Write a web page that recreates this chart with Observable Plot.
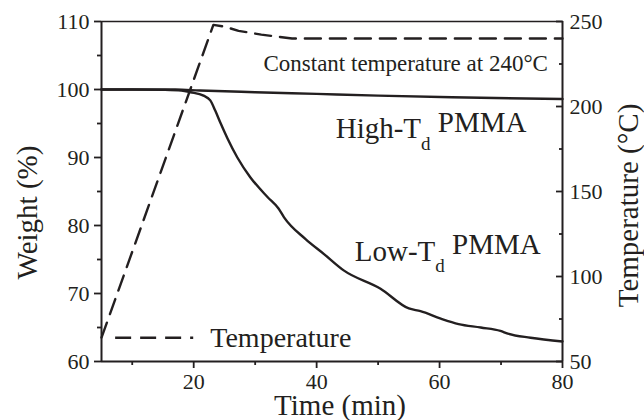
<!DOCTYPE html>
<html>
<head>
<meta charset="utf-8">
<script src="https://cdn.jsdelivr.net/npm/d3@7"></script>
<script src="https://cdn.jsdelivr.net/npm/@observablehq/plot@0.6"></script>
<style>
  body { margin: 0; background: #fff; }
  #chart svg { display: block; }
  #chart svg, #chart svg text, #chart svg tspan {
    font-family: "Liberation Serif", serif !important;
    font-variant: normal !important;
    font-variant-numeric: normal !important;
  }
</style>
</head>
<body>
<div id="chart"></div>
<script>
// Isothermal TGA run: weight loss of two PMMA grades and the oven temperature program.
const lowTime   = [5, 10, 15, 18, 19.5, 21.6, 22.7, 23.5, 24.4, 25.5, 27.1, 29.2, 32, 33.8, 34.7, 38.2, 41.2, 44.4, 50.4, 55, 56.9, 60.2, 63.1, 66.7, 69.9, 71.1, 74.8, 80];
const lowWeight = [100, 100, 99.95, 99.85, 99.6, 99.1, 98.4, 96.9, 95, 92.8, 90, 87.1, 84.2, 82.5, 81.2, 78, 75.8, 73.4, 70.7, 67.8, 67.4, 66.3, 65.5, 65, 64.5, 64.1, 63.5, 62.95];

const highTime   = [5, 17, 21, 30, 40, 50, 62, 80];
const highWeight = [100, 100, 99.85, 99.6, 99.35, 99.1, 98.85, 98.6];

const holdTemp = 240;
const tempTime = [5, 23.2, 25, 27.3, 31, 36, 40, 80];
const tempC    = [64, 248, 247, 244.5, 242.3, holdTemp, holdTemp, holdTemp];

const timeMajor   = [20, 40, 60, 80];
const timeMinor   = [10, 30, 50, 70];
const weightMajor = [60, 70, 80, 90, 100, 110];
const weightMinor = [65, 75, 85, 95, 105];
const tempMajor   = [50, 100, 150, 200, 250];
const tempMinor   = [75, 125, 175, 225];

// The temperature axis (50–250 °C) shares the vertical range of the weight axis (60–110 %).
const toW = t => 60 + (t - 50) / 4;
const toT = w => Math.round((w - 60) * 4 + 50);

const low  = lowTime.map((t, i) => ({t, w: lowWeight[i]}));
const high = highTime.map((t, i) => ({t, w: highWeight[i]}));
const temp = tempTime.map((t, i) => ({t, w: toW(tempC[i])}));

const ink = "#231f20";
const serif = "Liberation Serif";
const dash = "16,9";

const chart = Plot.plot({
  width: 644,
  height: 420,
  marginLeft: 101,
  marginRight: 82,
  marginTop: 21,
  marginBottom: 59,
  style: {fontFamily: serif, fontSize: "22px", color: ink, background: "#fff", overflow: "visible"},
  x: {domain: [5, 80]},
  y: {domain: [60, 110]},
  marks: [
    // axes
    Plot.axisX(timeMajor, {tickSize: 7, tickPadding: 5, strokeWidth: 1.8, label: null}),
    Plot.axisX(timeMinor, {tickSize: 4, tickFormat: () => "", strokeWidth: 1.8, label: null}),
    Plot.axisY(weightMajor, {tickSize: 7, tickPadding: 5, strokeWidth: 1.8, label: null}),
    Plot.axisY(weightMinor, {tickSize: 4, tickFormat: () => "", strokeWidth: 1.8, label: null}),
    Plot.axisY(tempMajor.map(toW), {anchor: "right", tickSize: -7, tickPadding: 14, tickFormat: toT, strokeWidth: 1.8, label: null}),
    Plot.axisY(tempMinor.map(toW), {anchor: "right", tickSize: -4, tickFormat: () => "", strokeWidth: 1.8, label: null}),
    // frame
    Plot.ruleX([5, 80], {stroke: ink, strokeWidth: 2}),
    Plot.ruleY([60], {stroke: ink, strokeWidth: 2}),
    Plot.ruleY([110], {stroke: ink, strokeWidth: 1.3}),
    // series
    Plot.line(temp, {x: "t", y: "w", stroke: ink, strokeWidth: 2.4, strokeDasharray: dash}),
    Plot.line(high, {x: "t", y: "w", stroke: ink, strokeWidth: 2.4, curve: "monotone-x"}),
    Plot.line(low, {x: "t", y: "w", stroke: ink, strokeWidth: 2.4, curve: "monotone-x"}),
    // legend sample for the temperature program
    Plot.ruleY([63.5], {x1: 7.3, x2: 20, stroke: ink, strokeWidth: 2.4, strokeDasharray: dash}),
    Plot.text(["Temperature"], {x: 22.7, y: 62.06, text: d => d, textAnchor: "start", lineAnchor: "bottom", fontSize: 28, fill: ink}),
    // annotations
    Plot.text([`Constant temperature at ${holdTemp}°C`], {x: 31.35, y: 102.65, text: d => d, textAnchor: "start", lineAnchor: "bottom", fontSize: 23, fill: ink}),
    Plot.text(["High-T"], {x: 43.1, y: 92.8, text: d => d, textAnchor: "start", lineAnchor: "bottom", fontSize: 29, fill: ink}),
    Plot.text(["Low-T"], {x: 46.2, y: 74.85, text: d => d, textAnchor: "start", lineAnchor: "bottom", fontSize: 29, fill: ink}),
    // axis titles
    Plot.text(["Time (min)"], {frameAnchor: "bottom", dx: 8, dy: 53, text: d => d, textAnchor: "middle", lineAnchor: "bottom", fontSize: 29, fill: ink}),
    Plot.text(["Weight (%)"], {frameAnchor: "left", dx: -65, dy: 21, rotate: -90, text: d => d, textAnchor: "middle", lineAnchor: "bottom", fontSize: 29, fill: ink}),
    Plot.text(["Temperature (°C)"], {frameAnchor: "right", dx: 75, dy: 14, rotate: -90, text: d => d, textAnchor: "middle", lineAnchor: "bottom", fontSize: 29, fill: ink})
  ]
});

// Every label is set in the serif face.
d3.select(chart).selectAll("text").attr("font-family", serif).attr("font-variant", null);

// Subscript "d" in the T_d labels, followed by the polymer name.
function subscriptLabel(svg, base, sub, rest) {
  d3.select(svg).selectAll("text")
    .filter(function () { return this.textContent === base; })
    .each(function () {
      const t = d3.select(this);
      t.append("tspan").attr("dy", "0.62em").attr("font-size", "19px").text(sub);
      t.append("tspan").attr("dy", "-0.62em").text("\u00a0" + rest);
    });
}
subscriptLabel(chart, "High-T", "d", "PMMA");
subscriptLabel(chart, "Low-T", "d", "PMMA");

document.getElementById("chart").append(chart);
</script>
</body>
</html>
